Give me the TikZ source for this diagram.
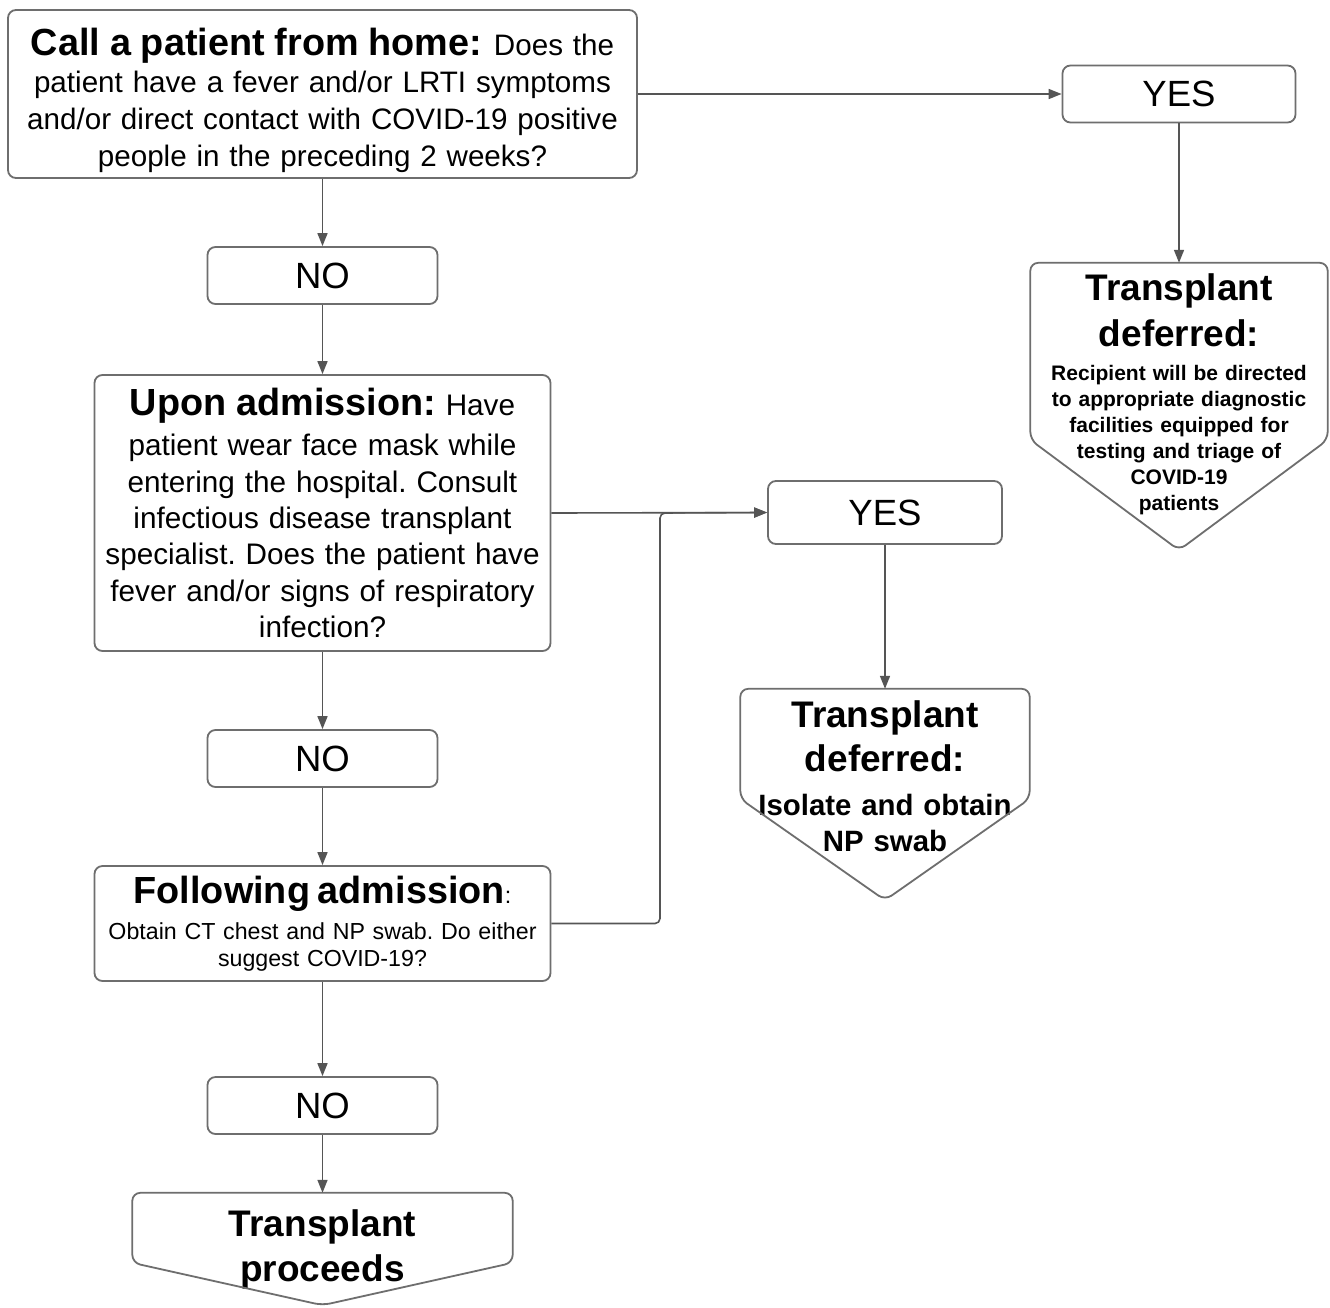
\documentclass[tikz,border=0pt]{standalone}
\usepackage{fontspec}
\setmainfont{Liberation Sans}
\usepackage{tikz}
\usetikzlibrary{arrows.meta}
\usepackage{xcolor}
\definecolor{ColLine}{RGB}{85,85,85}
\definecolor{ColBox}{RGB}{110,110,110}
\frenchspacing
\newcommand\FontAt[2]{\fontsize{#1}{#2}\selectfont}
\tikzstyle{BoxStep}=[draw=ColBox,line width=1.8pt,rounded corners=8pt,inner sep=0pt,align=center]
\tikzstyle{BoxAnswer}=[BoxStep,minimum width=230pt,minimum height=57pt,font=\FontAt{36.5}{40}]
\tikzstyle{BoxOutcome}=[inner sep=0pt]
\tikzstyle{TextOutcome}=[inner sep=0pt,align=center]
\tikzstyle{BoxLine}=[draw=ColBox,line width=1.8pt,rounded corners=8pt,line join=round]
\tikzstyle{EdgeFlow}=[ColLine,line width=1.6pt,-{Triangle[length=13pt,width=10pt]}]

\begin{document}
\begin{tikzpicture}[x=1pt,y=-1pt]
        \fill[white](0,0)rectangle(1330,1307);
        \useasboundingbox(0,0)rectangle(1330,1307);
        % left column
        \node[BoxStep,minimum width=629pt,minimum height=168pt,text width=620pt,font=\FontAt{29.6}{37}](call)at(322.5,94)
            {\rule{0pt}{40pt}{\FontAt{37.8}{37}\bfseries Call a patient from home:}\hspace{12pt}Does the\\patient have a fever and/or LRTI symptoms\\and/or direct contact with COVID-19 positive\\people in the preceding 2 weeks?};
        \node[BoxAnswer](no1)at(322.5,275.5){NO};
        \node[BoxStep,minimum width=456pt,minimum height=276pt,text width=450pt,font=\FontAt{29.7}{36.3}](admit)at(322.5,513)
            {{\FontAt{37.8}{36.3}\bfseries Upon admission:} Have\\[4pt]patient wear face mask while\\entering the hospital. Consult\\infectious disease transplant\\specialist. Does the patient have\\fever and/or signs of respiratory\\infection?};
        \node[BoxAnswer](no2)at(322.5,758.5){NO};
        \node[BoxStep,minimum width=456pt,minimum height=115pt,text width=450pt,font=\FontAt{23.2}{27}](follow)at(322.5,923.5)
            {{\FontAt{37.8}{27}\bfseries Following admission}:\\[9pt]Obtain CT chest and NP swab. Do either\\suggest COVID-19?};
        \node[BoxAnswer](no3)at(322.5,1105.5){NO};
        \node[BoxOutcome,minimum width=380pt,minimum height=112pt](proceed)at(322.5,1249){};
        \node[TextOutcome,text width=370pt,font=\FontAt{37}{45}\bfseries](proceedtxt)at([yshift=0pt]proceed.center){Transplant\\proceeds};
        % middle column
        \node[BoxStep,minimum width=234pt,minimum height=63pt,font=\FontAt{36.5}{40}](yes2)at(885,512.5){YES};
        \node[BoxOutcome,minimum width=289pt,minimum height=211pt](defer2)at(885,794.5){};
        \node[TextOutcome,text width=280pt,font=\FontAt{29.4}{36}\bfseries](defer2txt)at([yshift=18pt]defer2.center)
            {{\FontAt{37}{36}Transplant\\[8pt]deferred:}\\[8pt]Isolate and obtain\\NP swab};
        % right column
        \node[BoxStep,minimum width=233pt,minimum height=57pt,font=\FontAt{36.5}{40}](yes1)at(1179,94){YES};
        \node[BoxOutcome,minimum width=297pt,minimum height=287pt](defer1)at(1179,406.5){};
        \node[TextOutcome,text width=290pt,font=\FontAt{21}{26}\bfseries](defer1txt)at([yshift=12pt]defer1.center)
            {{\FontAt{37}{26}Transplant\\[11pt]deferred:}\\[8pt]Recipient will be directed\\to appropriate diagnostic\\facilities equipped for\\testing and triage of\\COVID-19\\patients};
        % pointed outcome frames
        \draw[BoxLine](defer1.north west)--(defer1.north east)--([yshift=-177pt]defer1.north east)--(defer1.south)--([yshift=-177pt]defer1.north west)--cycle;
        \draw[BoxLine](defer2.north west)--(defer2.north east)--([yshift=-110pt]defer2.north east)--(defer2.south)--([yshift=-110pt]defer2.north west)--cycle;
        \draw[BoxLine](proceed.north west)--(proceed.north east)--([yshift=-70pt]proceed.north east)--(proceed.south)--([yshift=-70pt]proceed.north west)--cycle;
        % connectors
        \coordinate(merge)at(660,513);
        \draw[EdgeFlow](call.east)--(yes1.west);
        \draw[EdgeFlow](yes1.south)--(defer1.north);
        \draw[EdgeFlow](call.south)--(no1.north);
        \draw[EdgeFlow](no1.south)--(admit.north);
        \draw[EdgeFlow](admit.east)--(yes2.west);
        \draw[EdgeFlow](yes2.south)--(defer2.north);
        \draw[EdgeFlow](admit.south)--(no2.north);
        \draw[EdgeFlow](no2.south)--(follow.north);
        \draw[EdgeFlow,rounded corners=5pt](follow.east)-|(merge)--(yes2.west);
        \draw[EdgeFlow](follow.south)--(no3.north);
        \draw[EdgeFlow](no3.south)--(proceed.north);
    \end{tikzpicture}
\end{document}
